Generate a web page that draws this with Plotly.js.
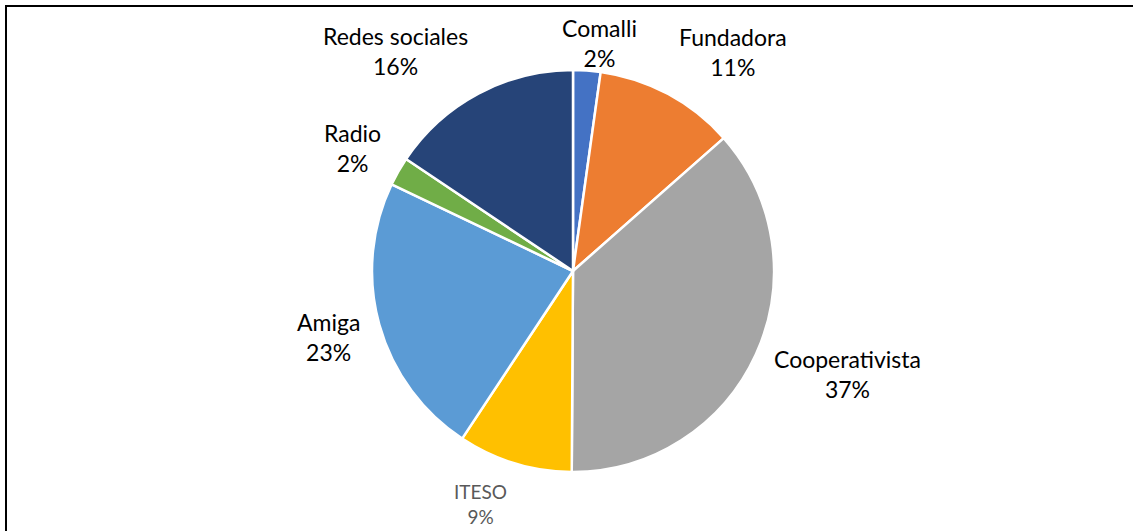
<!DOCTYPE html>
<html>
<head>
<meta charset="utf-8">
<script src="https://cdn.plot.ly/plotly-3.0.1.min.js"></script>
<style>
  html, body { margin: 0; padding: 0; background: #fff; }
  #frame { position: absolute; left: 5px; top: 5px; width: 1200px; height: 600px;
           border-left: 2px solid #000; border-top: 2px solid #000; pointer-events: none; }
  #chart { position: absolute; left: 0; top: 0; width: 1133px; height: 531px; }
</style>
</head>
<body>
<div id="chart"></div>
<div id="frame"></div>
<script>
const categories = ["Comalli", "Fundadora", "Cooperativista", "ITESO", "Amiga", "Radio", "Redes sociales"];
const values = [2.2, 11.3, 36.6, 9.2, 22.8, 2.3, 15.6];
const colors = ["#4472C4", "#ED7D31", "#A5A5A5", "#FFC000", "#5B9BD5", "#70AD47", "#264478"];
const labelColors = ["#000000", "#000000", "#000000", "#595959", "#000000", "#000000", "#000000"];
const labelSizes = [23, 23, 23, 19, 23, 23, 23];

const W = 1133, H = 531, cx = 573, cy = 271, R = 201;
const FONT = "Lato, 'Open Sans', sans-serif";
const GAP = 18, TOP_LIMIT = 13;

const trace = {
  type: "pie",
  labels: categories,
  values: values,
  sort: false,
  direction: "clockwise",
  rotation: 0,
  marker: { colors: colors, line: { color: "#FFFFFF", width: 2.5 } },
  textinfo: "none",
  domain: { x: [(cx - R) / W, (cx + R) / W], y: [(H - cy - R) / H, (H - cy + R) / H] },
  automargin: false,
  hoverinfo: "label+percent"
};

// Excel-like outside-end data labels placed just outside each slice's mid-angle.
const total = values.reduce((a, b) => a + b, 0);
const ctx = document.createElement("canvas").getContext("2d");
const clamp = t => Math.max(-1, Math.min(1, t));
let cum = 0;
const annotations = categories.map((name, i) => {
  const frac = values[i] / total;
  const mid = (cum + frac / 2) * 2 * Math.PI;
  cum += frac;
  const pct = Math.round(frac * 100) + "%";
  const size = labelSizes[i];
  ctx.font = size + "px Lato";
  const w = Math.max(ctx.measureText(name).width, ctx.measureText(pct).width);
  const lh = size * 1.3;
  const a = w / 2 + 2, b = lh;
  const sx = Math.sin(mid), sy = -Math.cos(mid);
  const ax = cx + (R + GAP) * sx, ay = cy + (R + GAP) * sy;
  let px = ax + a * clamp(4 * sx), py = ay + b * sy;
  if (py - b < TOP_LIMIT) py = TOP_LIMIT + b;
  return {
    text: name + "<br>" + pct,
    x: px / W, y: 1 - py / H, xref: "paper", yref: "paper",
    xanchor: "center", yanchor: "middle", showarrow: false, align: "center",
    font: { family: FONT, size: size, color: labelColors[i] }
  };
});

const layout = {
  width: W, height: H,
  margin: { l: 0, r: 0, t: 0, b: 0 },
  showlegend: false,
  paper_bgcolor: "#FFFFFF",
  font: { family: FONT, color: "#000" },
  annotations: annotations
};

Plotly.newPlot("chart", [trace], layout, { displayModeBar: false, staticPlot: true });
</script>
</body>
</html>
